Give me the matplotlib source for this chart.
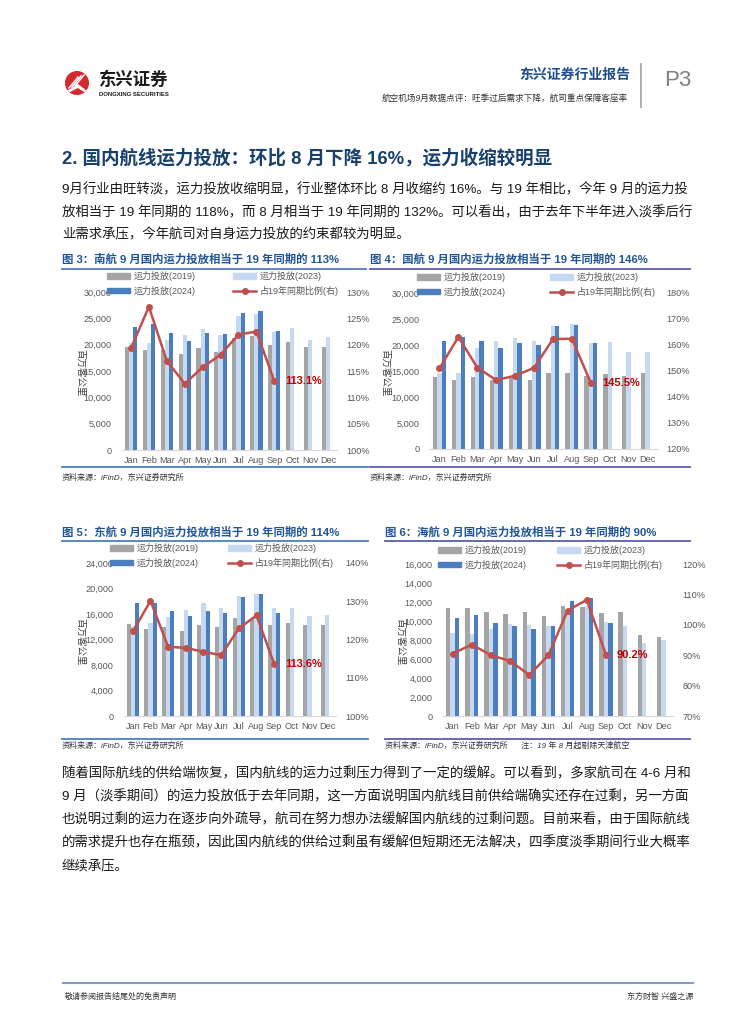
import numpy as np
import matplotlib
matplotlib.use('Agg')
import matplotlib.pyplot as plt
from matplotlib.patches import Patch, Ellipse, Polygon
from matplotlib.lines import Line2D
from matplotlib.ticker import FuncFormatter

FONT = ['Liberation Sans', 'Noto Sans CJK SC', 'DejaVu Sans']
plt.rcParams['font.family'] = FONT

# ---------------- data ----------------
months = ['Jan', 'Feb', 'Mar', 'Apr', 'May', 'Jun', 'Jul', 'Aug', 'Sep', 'Oct', 'Nov', 'Dec']
legend_labels = ['运力投放(2019)', '运力投放(2023)', '运力投放(2024)', '占19年同期比例(右)']
ylabel = '百万客公里'

csa_2019 = [19600, 18900, 19000, 18300, 19300, 18700, 21300, 21600, 19900, 20500, 19600, 19500]
csa_2023 = [20400, 20300, 20900, 21800, 22900, 21800, 25500, 25800, 22500, 23200, 20900, 21400]
csa_2024 = [23300, 23900, 22200, 20700, 22200, 22000, 26000, 26400, 22600]
csa_ratio = [119.3, 127.2, 116.9, 112.6, 115.7, 118.1, 121.9, 122.5, 113.1]

ca_2019 = [13800, 13300, 13800, 13300, 13700, 13300, 14700, 14700, 14000, 14400, 14100, 14600]
ca_2023 = [14600, 14700, 19400, 20800, 21300, 20800, 23700, 24000, 20400, 20600, 18600, 18700]
ca_2024 = [20800, 21500, 20700, 19500, 20300, 20000, 23600, 23800, 20300]
ca_ratio = [151.0, 163.1, 151.3, 146.5, 148.2, 151.2, 162.3, 162.4, 145.5]

ce_2019 = [14500, 13600, 13900, 13400, 14200, 13900, 15300, 15200, 14200, 14600, 14300, 14300]
ce_2023 = [14100, 14600, 15500, 16700, 17700, 16900, 18900, 19200, 16900, 17000, 15700, 15900]
ce_2024 = [17800, 17800, 16400, 15700, 16500, 16100, 18700, 19100, 16100]
ce_ratio = [122.1, 130.1, 118.1, 117.8, 116.8, 115.9, 122.9, 126.3, 113.6]

hu_2019 = [11350, 11350, 10900, 10700, 10900, 10500, 11600, 11500, 10800, 11000, 8500, 8300]
hu_2023 = [8700, 8650, 9200, 9700, 9600, 9500, 11300, 11600, 9900, 9500, 7700, 8000]
hu_2024 = [10270, 10600, 9800, 9460, 9180, 9500, 12100, 12400, 9770]
hu_ratio = [90.5, 93.5, 90.0, 88.1, 83.5, 90.0, 104.7, 108.2, 90.2]

titles = ['图 3：南航 9 月国内运力投放相当于 19 年同期的 113%',
          '图 4：国航 9 月国内运力投放相当于 19 年同期的 146%',
          '图 5：东航 9 月国内运力投放相当于 19 年同期的 114%',
          '图 6：海航 9 月国内运力投放相当于 19 年同期的 90%']
source = '资料来源：iFinD，东兴证券研究所'
note6 = '注：19 年 8 月起剔除天津航空'

para1 = ['9月行业由旺转淡，运力投放收缩明显，行业整体环比 8 月收缩约 16%。与 19 年相比，今年 9 月的运力投',
         '放相当于 19 年同期的 118%，而 8 月相当于 19 年同期的 132%。可以看出，由于去年下半年进入淡季后行',
         '业需求承压，今年航司对自身运力投放的约束都较为明显。']
para2 = ['随着国际航线的供给端恢复，国内航线的运力过剩压力得到了一定的缓解。可以看到，多家航司在 4-6 月和',
         '9 月（淡季期间）的运力投放低于去年同期，这一方面说明国内航线目前供给端确实还存在过剩，另一方面',
         '也说明过剩的运力在逐步向外疏导，航司在努力想办法缓解国内航线的过剩问题。目前来看，由于国际航线',
         '的需求提升也存在瓶颈，因此国内航线的供给过剩虽有缓解但短期还无法解决，四季度淡季期间行业大概率',
         '继续承压。']

# ---------------- figure ----------------
W, H = 755, 1024
fig = plt.figure(figsize=(W / 100, H / 100), dpi=100)


def T(x, y, s, **kw):
    kw.setdefault('va', 'center')
    return fig.text(x / W, 1 - y / H, s, **kw)


def hline(x0, x1, y, color, lw):
    fig.add_artist(Line2D([x0 / W, x1 / W], [1 - y / H, 1 - y / H], color=color, lw=lw,
                          transform=fig.transFigure))


C19, C23, C24, CR = '#A5A5A5', '#C6D9F1', '#4A7EBE', '#C0504D'
TICKC = '#595959'


def chart(box, d19, d23, d24, ratio, ymax, ystep, rlim, rstep, ylab_xy, leg1, leg2):
    l, t, r, b = box
    ax = fig.add_axes([l / W, 1 - b / H, (r - l) / W, (b - t) / H])
    x = np.arange(len(months))
    w = 0.23
    ax.bar(x - w, d19, w, color=C19, label=legend_labels[0])
    ax.bar(x, d23, w, color=C23, label=legend_labels[1])
    ax.bar(np.arange(len(d24)) + w, d24, w, color=C24, label=legend_labels[2])
    ax.set_xlim(-0.5, len(months) - 0.5)
    ax.set_ylim(0, ymax)
    ax.set_yticks(np.arange(0, ymax + 1, ystep))
    ax.yaxis.set_major_formatter(FuncFormatter(lambda v, p: f'{v:,.0f}'))
    ax.set_xticks(x)
    ax.set_xticklabels(months)
    for s in ['top', 'left', 'right']:
        ax.spines[s].set_visible(False)
    ax.spines['bottom'].set_color('#D9D9D9')
    ax.spines['bottom'].set_linewidth(0.8)
    ax.tick_params(axis='y', length=0, labelsize=6.6, labelcolor=TICKC, pad=7.5)
    ax.tick_params(axis='x', length=0, labelsize=6.6, labelcolor=TICKC, pad=4.5)

    ax2 = ax.twinx()
    ax2.set_ylim(*rlim)
    ax2.set_yticks(np.arange(rlim[0], rlim[1] + 0.1, rstep))
    ax2.yaxis.set_major_formatter(FuncFormatter(lambda v, p: f'{v:.0f}%'))
    ax2.tick_params(axis='y', length=0, labelsize=6.6, labelcolor=TICKC, pad=7)
    for s in ax2.spines.values():
        s.set_visible(False)
    ax2.plot(np.arange(len(ratio)), ratio, color=CR, lw=1.8, marker='o', ms=4,
             label=legend_labels[3])
    ax2.annotate(f'{ratio[-1]:.1f}%', xy=(len(ratio) - 1, ratio[-1]), xytext=(8, 0),
                 textcoords='offset points', ha='left', va='center', color='#C00000',
                 fontsize=8, fontweight='bold')

    fig.text(ylab_xy[0] / W, 1 - ylab_xy[1] / H, ylabel, rotation=270, ha='center', va='center',
             fontsize=6.8, color='#404040')

    h19 = Patch(color=C19)
    h23 = Patch(color=C23)
    h24 = Patch(color=C24)
    hr = Line2D([], [], color=CR, lw=1.8, marker='o', ms=4)
    common = dict(loc='upper left', bbox_transform=fig.transFigure, frameon=False,
                  fontsize=6.5, handlelength=2.6, handleheight=0.55, handletextpad=0.4,
                  labelspacing=0.5, borderpad=0, borderaxespad=0)
    la = ax2.legend([h19, h24], [legend_labels[0], legend_labels[2]],
                    bbox_to_anchor=(leg1[0] / W, 1 - leg1[1] / H), labelcolor=TICKC, **common)
    ax2.add_artist(la)
    ax2.legend([h23, hr], [legend_labels[1], legend_labels[3]],
               bbox_to_anchor=(leg2[0] / W, 1 - leg2[1] / H), labelcolor=TICKC, **common)
    return ax


# ---------------- header ----------------
fig.add_artist(Ellipse((77 / W, 1 - 83 / H), 24 / W, 24 / H, transform=fig.transFigure,
                       facecolor='#D7282F', edgecolor='none'))
for k in range(3):
    fig.add_artist(Line2D([(69 + 3 * k) / W, (78 + 3 * k) / W], [1 - (88 - k) / H, 1 - (77 - k) / H],
                          color='white', lw=1.1, transform=fig.transFigure))
fig.add_artist(Polygon([[67 / W, 1 - 91 / H], [78 / W, 1 - 84 / H], [87 / W, 1 - 91 / H],
                        [84 / W, 1 - 92 / H], [78 / W, 1 - 88 / H], [70 / W, 1 - 92 / H]],
                       closed=True, facecolor='white', edgecolor='none', transform=fig.transFigure))
T(99, 79, '东兴证券', fontsize=12.5, fontweight='bold', color='#1A1A1A')
T(99, 94, 'DONGXING SECURITIES', fontsize=4.3, fontweight='bold', color='#1A1A1A')
T(630, 75, '东兴证券行业报告', fontsize=10, fontweight='bold', color='#1F4E8C', ha='right')
T(628, 98, '航空机场9月数据点评：旺季过后需求下降，航司重点保障客座率', fontsize=6.2,
  color='#333333', ha='right', style='italic')
fig.add_artist(Line2D([641 / W, 641 / W], [1 - 64 / H, 1 - 107 / H], color='#A0A0A0', lw=1.2,
                      transform=fig.transFigure))
T(664, 81, 'P3', fontsize=16, color='#7F7F7F')

# ---------------- section heading and text ----------------
T(62, 158, '2. 国内航线运力投放：环比 8 月下降 16%，运力收缩较明显', fontsize=13.3,
  fontweight='bold', color='#17406D')
for i, line in enumerate(para1):
    T(62, 190 + 22.5 * i, line, fontsize=9.65, color='#1A1A1A')
for i, line in enumerate(para2):
    T(62, 774 + 23 * i, line, fontsize=9.65, color='#1A1A1A')

# ---------------- chart titles, rules, sources ----------------
TC = '#1F5597'
T(62, 259, titles[0], fontsize=8.2, fontweight='bold', color=TC)
T(370, 259, titles[1], fontsize=8.2, fontweight='bold', color=TC)
T(62, 532, titles[2], fontsize=8.2, fontweight='bold', color=TC)
T(385, 532, titles[3], fontsize=8.2, fontweight='bold', color=TC)
LC1, LC2 = '#4F7FB8', '#5B5EA8'
hline(62, 366, 269, LC1, 1.3)
hline(370, 690, 269, LC2, 1.3)
hline(62, 368, 467, LC1, 1.3)
hline(370, 690, 467, LC2, 1.3)
hline(62, 368, 541, LC1, 1.3)
hline(385, 690, 541, LC2, 1.3)
hline(62, 368, 739, LC1, 1.3)
hline(385, 690, 739, LC2, 1.3)
T(62, 478, source, fontsize=5.8, color='#333333', style='italic')
T(370, 478, source, fontsize=5.8, color='#333333', style='italic')
T(62, 746, source, fontsize=5.8, color='#333333', style='italic')
T(385, 746, source + '      ' + note6, fontsize=5.8, color='#333333', style='italic')

# ---------------- charts ----------------
chart((122, 292, 337, 450), csa_2019, csa_2023, csa_2024, csa_ratio, 30000, 5000, (100, 130), 5,
      (80, 373), (107, 271), (233, 271))
chart((430, 293, 657, 449), ca_2019, ca_2023, ca_2024, ca_ratio, 30000, 5000, (120, 180), 10,
      (385, 373), (417, 272), (550, 272))
chart((124, 563, 336, 716), ce_2019, ce_2023, ce_2024, ce_ratio, 24000, 4000, (100, 140), 10,
      (80, 642), (110, 543), (228, 543))
chart((443, 564, 673, 716), hu_2019, hu_2023, hu_2024, hu_ratio, 16000, 2000, (70, 120), 10,
      (400, 642), (438, 545), (557, 545))

# ---------------- footer ----------------
hline(63, 693, 983, '#7F9FC0', 1.5)
T(65, 997, '敬请参阅报告结尾处的免责声明', fontsize=5.8, color='#333333')
T(693, 997, '东方财智 兴盛之源', fontsize=5.8, color='#333333', ha='right')

fig.savefig('out.png', dpi=100)
